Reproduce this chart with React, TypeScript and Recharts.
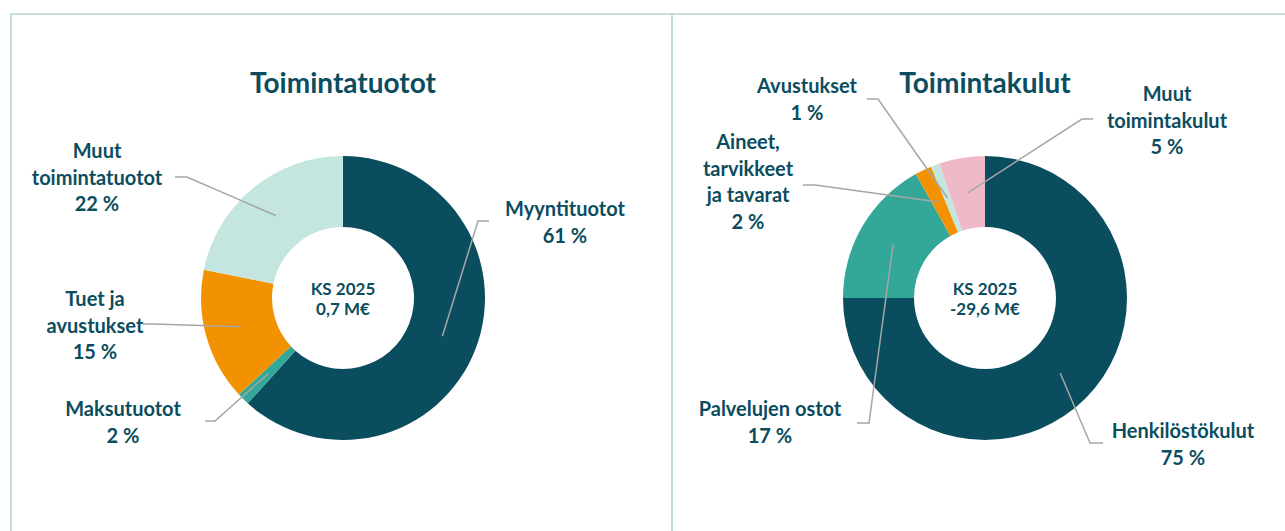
import React from "react";
import { PieChart, Pie, Cell } from "recharts";

// Toimintatuotot (vasen)
const tuototNames = ["Myyntituotot", "Maksutuotot", "Tuet ja avustukset", "Muut toimintatuotot"];
const tuototValues = [61.7, 1.4, 15.1, 21.8];
const tuototPct = ["61 %", "2 %", "15 %", "22 %"];
const tuototLines = [["Myyntituotot"], ["Maksutuotot"], ["Tuet ja", "avustukset"], ["Muut", "toimintatuotot"]];

// Toimintakulut (oikea)
const kulutNames = ["Henkilöstökulut", "Palvelujen ostot", "Aineet, tarvikkeet ja tavarat", "Avustukset", "Muut toimintakulut"];
const kulutValues = [75.0, 16.9, 1.9, 1.0, 5.2];
const kulutPct = ["75 %", "17 %", "2 %", "1 %", "5 %"];
const kulutLines = [["Henkilöstökulut"], ["Palvelujen ostot"], ["Aineet,", "tarvikkeet", "ja tavarat"], ["Avustukset"], ["Muut", "toimintakulut"]];

const tuototColors = ["#0a4d5e", "#33a898", "#f39200", "#c5e5df"];
const kulutColors = ["#0a4d5e", "#33a898", "#f39200", "#c5e5df", "#f0b9c7"];

const TEXT = "#0b4d5e";
const LINE = "#a6a6a6";
const FONT = "Lato, 'Open Sans', sans-serif";

// label placement: leader end x, elbow x, leader y, text centre x, first baseline y
const tuototLayout = [
  { end: 489, elbow: 478, y: 221, tx: 565, ty: 216 },
  { end: 205, elbow: 215, y: 421, tx: 123, ty: 416 },
  { end: 143, elbow: 153, y: 324, tx: 95, ty: 306 },
  { end: 175, elbow: 187, y: 177, tx: 97, ty: 158 },
];
const kulutLayout = [
  { end: 1103, elbow: 1090, y: 443, tx: 1183, ty: 438 },
  { end: 857, elbow: 869, y: 423, tx: 770, ty: 416 },
  { end: 803, elbow: 815, y: 185, tx: 748, ty: 149 },
  { end: 867, elbow: 878, y: 99, tx: 807, ty: 93 },
  { end: 1093, elbow: 1082, y: 119, tx: 1167, ty: 101 },
];

const RAD = Math.PI / 180;

function makeLabel(layout: any[], lines: string[][], pct: string[]) {
  return (props: any) => {
    const { cx, cy, midAngle, innerRadius, outerRadius, index } = props;
    const r = (innerRadius + outerRadius) / 2;
    const sx = cx + r * Math.cos(-midAngle * RAD);
    const sy = cy + r * Math.sin(-midAngle * RAD);
    const l = layout[index];
    const rows = [...lines[index], pct[index]];
    return (
      <g key={"lbl" + index}>
        <polyline
          points={`${l.end},${l.y} ${l.elbow},${l.y} ${sx},${sy}`}
          fill="none"
          stroke={LINE}
          strokeWidth={1.5}
        />
        <text x={l.tx} y={l.ty} textAnchor="middle" fill={TEXT} fontFamily={FONT} fontWeight={700} fontSize={20}>
          {rows.map((t, i) => (
            <tspan key={i} x={l.tx} y={l.ty + i * 26.5}>
              {t}
            </tspan>
          ))}
        </text>
      </g>
    );
  };
}

const tuototData = tuototNames.map((name, i) => ({ name, value: tuototValues[i] }));
const kulutData = kulutNames.map((name, i) => ({ name, value: kulutValues[i] }));

export default function App() {
  return (
    <div style={{ position: "absolute", left: 0, top: 0, width: 1285, height: 531, background: "#fff", fontFamily: FONT }}>
      {/* frame */}
      <div style={{ position: "absolute", left: 10, top: 13, width: 1275, height: 2, background: "#c5dedb" }} />
      <div style={{ position: "absolute", left: 10, top: 13, width: 2, height: 518, background: "#c5dedb" }} />
      <div style={{ position: "absolute", left: 671, top: 13, width: 2, height: 518, background: "#c5dedb" }} />

      <div style={{ position: "absolute", left: 0, top: 0 }}>
        <PieChart width={1285} height={531} margin={{ top: 0, right: 0, bottom: 0, left: 0 }}>
          <Pie
            data={tuototData}
            dataKey="value"
            cx={343}
            cy={298}
            innerRadius={71}
            outerRadius={142}
            startAngle={90}
            endAngle={-270}
            stroke="none"
            isAnimationActive={false}
            labelLine={false}
            label={makeLabel(tuototLayout, tuototLines, tuototPct)}
          >
            {tuototData.map((d, i) => (
              <Cell key={d.name} fill={tuototColors[i]} />
            ))}
          </Pie>
          <Pie
            data={kulutData}
            dataKey="value"
            cx={985}
            cy={298}
            innerRadius={71}
            outerRadius={142}
            startAngle={90}
            endAngle={-270}
            stroke="none"
            isAnimationActive={false}
            labelLine={false}
            label={makeLabel(kulutLayout, kulutLines, kulutPct)}
          >
            {kulutData.map((d, i) => (
              <Cell key={d.name} fill={kulutColors[i]} />
            ))}
          </Pie>
        </PieChart>
      </div>

      {/* titles */}
      <div style={{ position: "absolute", left: 193, width: 300, top: 65, textAlign: "center", color: TEXT, fontWeight: 700, fontSize: 28 }}>
        Toimintatuotot
      </div>
      <div style={{ position: "absolute", left: 835, width: 300, top: 65, textAlign: "center", color: TEXT, fontWeight: 700, fontSize: 28 }}>
        Toimintakulut
      </div>

      {/* centre texts */}
      <div style={{ position: "absolute", left: 283, width: 120, top: 279, textAlign: "center", color: TEXT, fontWeight: 700, fontSize: 17, lineHeight: "20px" }}>
        KS 2025
        <br />
        0,7 M€
      </div>
      <div style={{ position: "absolute", left: 925, width: 120, top: 279, textAlign: "center", color: TEXT, fontWeight: 700, fontSize: 17, lineHeight: "20px" }}>
        KS 2025
        <br />
        -29,6 M€
      </div>
    </div>
  );
}
